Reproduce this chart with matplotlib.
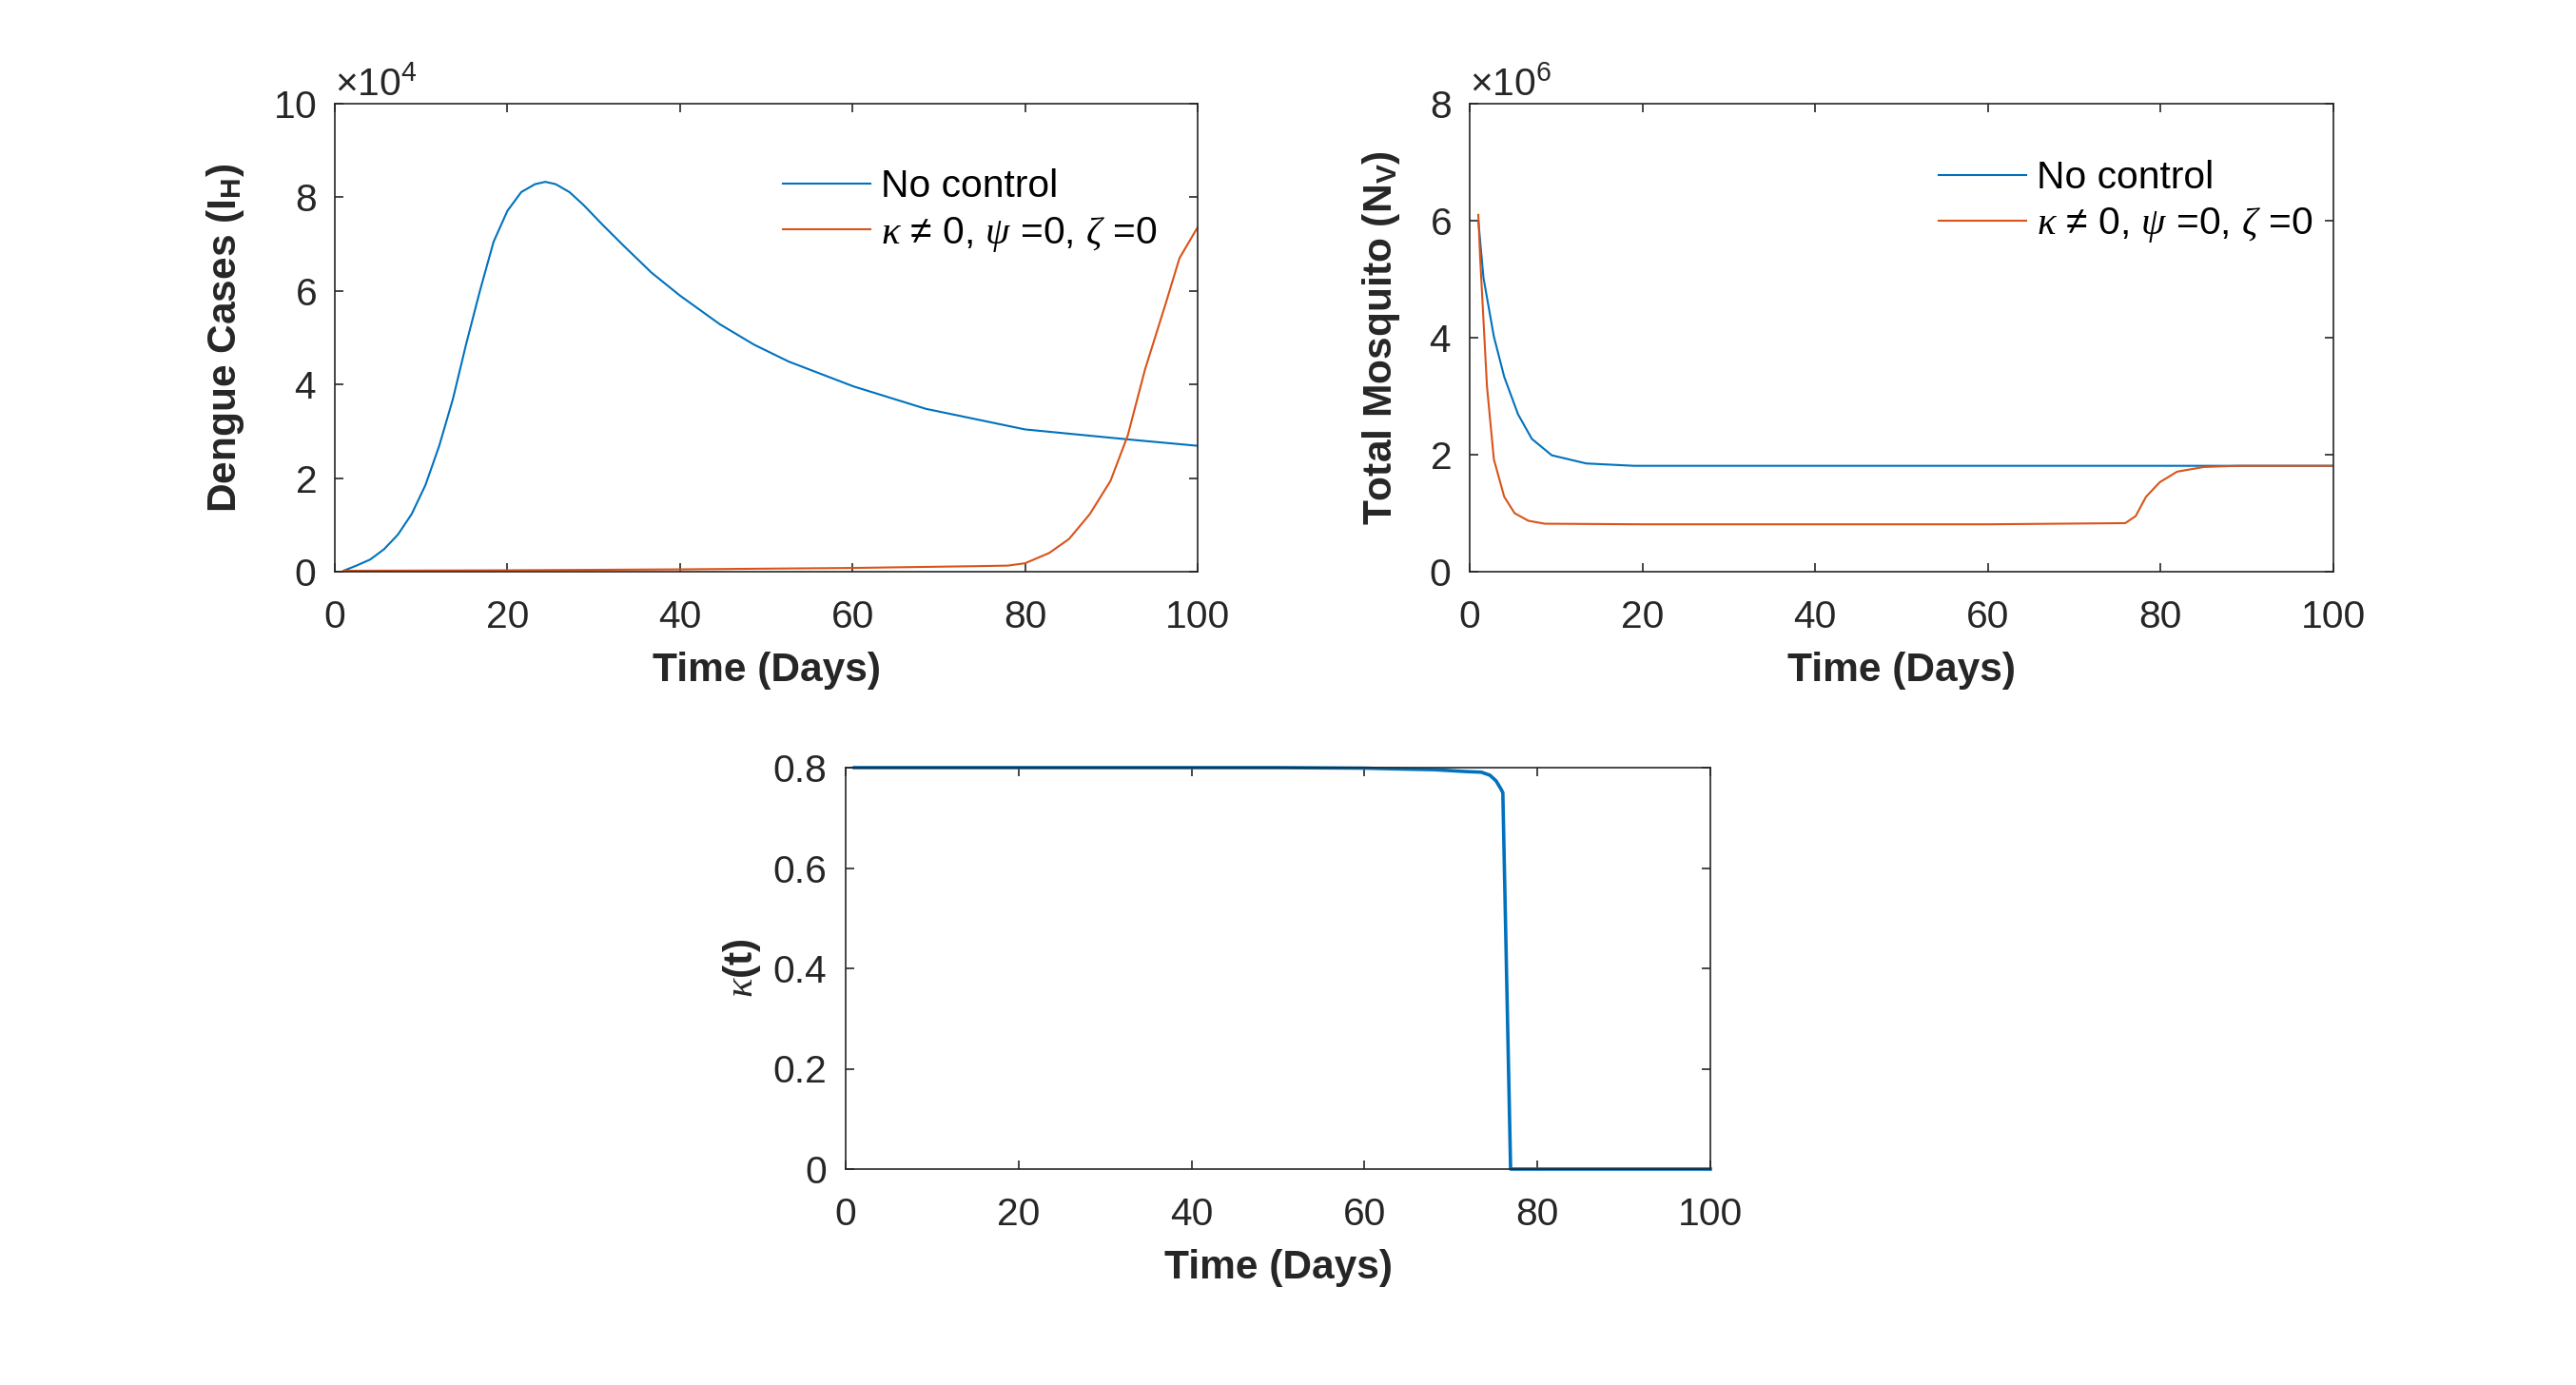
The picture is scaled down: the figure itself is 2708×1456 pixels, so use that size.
import numpy as np
import matplotlib
matplotlib.use("Agg")
import matplotlib.pyplot as plt
from matplotlib.ticker import ScalarFormatter, FormatStrFormatter

plt.rcParams['font.family'] = ['Liberation Sans', 'DejaVu Sans']
plt.rcParams['mathtext.fontset'] = 'custom'
plt.rcParams['mathtext.rm'] = 'Liberation Sans'
plt.rcParams['mathtext.it'] = 'Liberation Serif:italic'
plt.rcParams['mathtext.bf'] = 'Liberation Sans:bold'

# Dengue cases I_H (x 1e4)
days_ih_nc = [1, 2.5, 4.1, 5.7, 7.3, 8.9, 10.5, 12.1, 13.7, 15.2, 16.8, 18.4, 20, 21.6,
              23.2, 24.4, 25.6, 27.2, 28.8, 31.1, 33.5, 36.7, 40, 44.6, 48.6, 52.6,
              60.1, 68.5, 80, 92.3, 100]
ih_nc = [0.02, 0.13, 0.26, 0.48, 0.79, 1.23, 1.85, 2.69, 3.70, 4.85, 5.99, 7.05, 7.71, 8.11,
         8.28, 8.33, 8.28, 8.11, 7.84, 7.40, 6.96, 6.39, 5.90, 5.29, 4.85, 4.49,
         3.96, 3.48, 3.04, 2.82, 2.69]
days_ih_k = [1, 20, 40, 60, 75, 78, 80, 82.8, 85.1, 87.5, 89.9, 91.9, 93.9, 96.3, 97.9, 100]
ih_k = [0.02, 0.03, 0.05, 0.08, 0.12, 0.13, 0.18, 0.40, 0.70, 1.23, 1.94, 2.91, 4.32, 5.73,
        6.70, 7.36]

# Total mosquito N_V (x 1e6)
days_nv_nc = [1, 1.6, 2.8, 4, 5.6, 7.2, 9.5, 13.5, 19, 40, 60, 80, 100]
nv_nc = [6.0, 5.02, 4.02, 3.33, 2.69, 2.27, 1.99, 1.85, 1.81, 1.81, 1.81, 1.81, 1.81]
days_nv_k = [1, 1.2, 2, 2.8, 4, 5.2, 6.8, 8.7, 20, 40, 60, 75.9, 77.1, 78.3, 79.9, 81.9,
             85, 89, 100]
nv_k = [6.1, 5.4, 3.17, 1.92, 1.28, 1.0, 0.87, 0.82, 0.81, 0.81, 0.81, 0.83, 0.95, 1.28,
        1.53, 1.71, 1.79, 1.81, 1.81]

# control kappa(t)
days_kappa = [1, 20, 40, 50, 55, 60, 65, 68, 70, 72, 73.5, 74.5, 75.2, 75.8, 76.0, 76.9, 100]
kappa = [0.8, 0.8, 0.8, 0.8, 0.7995, 0.799, 0.797, 0.796, 0.794, 0.792, 0.791, 0.785,
         0.774, 0.757, 0.75, 0.0, 0.0]

label_nc = 'No control'
label_k = r'$\kappa$ ≠ 0, $\psi$ =0, $\zeta$ =0'
blue = '#0072BD'
orange = '#D95319'
dark = '#262626'

W, H = 2708, 1456
fig = plt.figure(figsize=(W / 200, H / 200), dpi=200)


def box(x0, y0, x1, y1):
    return [x0 / W, 1 - y1 / H, (x1 - x0) / W, (y1 - y0) / H]


def style(ax):
    for s in ax.spines.values():
        s.set_color(dark)
        s.set_linewidth(0.6)
    ax.tick_params(direction='in', top=True, right=True, length=3.2, width=0.6,
                   colors=dark, labelsize=14.7)
    ax.tick_params(axis='x', pad=10.5)
    ax.tick_params(axis='y', pad=7)
    ax.set_xlim(0, 100)
    ax.set_xticks(np.arange(0, 101, 20))
    ax.set_xlabel('Time (Days)', fontsize=15.3, fontweight='bold', color=dark, labelpad=6)


ax1 = fig.add_axes(box(352, 109, 1259, 601))
ax1.plot(days_ih_nc, np.array(ih_nc) * 1e4, color=blue, lw=0.75, label=label_nc)
ax1.plot(days_ih_k, np.array(ih_k) * 1e4, color=orange, lw=0.75, label=label_k)
ax1.set_ylim(0, 1e5)
ax1.set_yticks(np.arange(0, 100001, 20000))
fmt1 = ScalarFormatter(useMathText=True)
fmt1.set_powerlimits((4, 4))
ax1.yaxis.set_major_formatter(fmt1)
style(ax1)
ax1.yaxis.get_offset_text().set_fontsize(14.7)
ax1.set_ylabel(r'Dengue Cases (I$_\mathbf{H}$)', fontsize=15.3, fontweight='bold', color=dark,
               labelpad=10)
ax1.legend(loc='upper left', bbox_to_anchor=(0.519, 0.861), frameon=False, fontsize=14.7,
           handlelength=2.25, handletextpad=0.27, borderpad=0, borderaxespad=0,
           labelspacing=0.25)

ax2 = fig.add_axes(box(1545, 109, 2453, 601))
ax2.plot(days_nv_nc, np.array(nv_nc) * 1e6, color=blue, lw=0.75, label=label_nc)
ax2.plot(days_nv_k, np.array(nv_k) * 1e6, color=orange, lw=0.75, label=label_k)
ax2.set_ylim(0, 8e6)
ax2.set_yticks(np.arange(0, 8.01e6, 2e6))
fmt2 = ScalarFormatter(useMathText=True)
fmt2.set_powerlimits((6, 6))
ax2.yaxis.set_major_formatter(fmt2)
style(ax2)
ax2.yaxis.get_offset_text().set_fontsize(14.7)
ax2.set_ylabel(r'Total Mosquito (N$_\mathbf{V}$)', fontsize=15.3, fontweight='bold', color=dark,
               labelpad=10)
ax2.legend(loc='upper left', bbox_to_anchor=(0.543, 0.88), frameon=False, fontsize=14.7,
           handlelength=2.25, handletextpad=0.27, borderpad=0, borderaxespad=0,
           labelspacing=0.25)

ax3 = fig.add_axes(box(889, 807, 1798, 1229))
ax3.plot(days_kappa, kappa, color=blue, lw=1.3, clip_on=False)
ax3.set_ylim(0, 0.8)
ax3.set_yticks(np.arange(0, 0.81, 0.2))
ax3.yaxis.set_major_formatter(FormatStrFormatter('%g'))
style(ax3)
ax3.set_ylabel(r'$\kappa$(t)', fontsize=15.3, fontweight='bold', color=dark)

fig.savefig('out.png', dpi=200, facecolor='white')
